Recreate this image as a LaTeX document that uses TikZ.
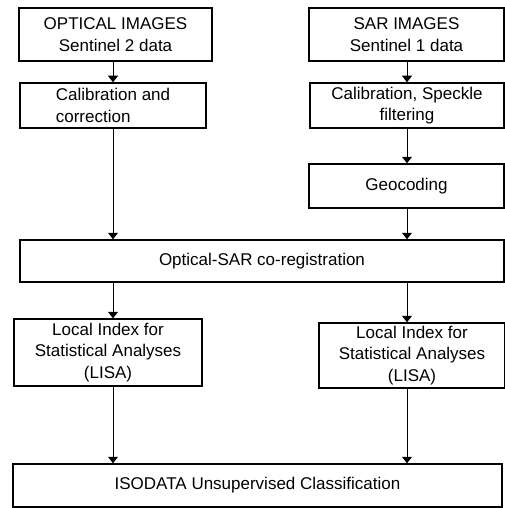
\documentclass[tikz,border=0pt]{standalone}
\usepackage{fontspec}
\setmainfont{Liberation Sans}
\usetikzlibrary{arrows.meta}
\begin{document}
\begin{tikzpicture}[x=1pt,y=-1pt,
                box/.style={draw,line width=1.5pt,rectangle,inner sep=0pt,align=center,
                    font=\fontsize{17}{21.5}\selectfont},
                arr/.style={line width=1pt,-{Triangle[width=10pt,length=6.5pt]}}]
                \useasboundingbox (0,0) rectangle (505,508);
                \coordinate (xl) at (113,0);
                \coordinate (xr) at (407,0);
                \node[box,minimum width=193,minimum height=53] (opt) at (115.5,34.5) {OPTICAL IMAGES\\Sentinel 2 data};
                \node[box,minimum width=186,minimum height=45,align=left] (optcal) at (113,105.5) {Calibration and\\correction};
                \node[box,minimum width=195,minimum height=53] (sar) at (406.5,34.5) {SAR IMAGES\\Sentinel 1 data};
                \node[box,minimum width=194,minimum height=45] (sarcal) at (407,105.5) {Calibration, Speckle\\filtering};
                \node[box,minimum width=195,minimum height=44] (geo) at (406.5,186) {Geocoding};
                \node[box,minimum width=484,minimum height=42] (coreg) at (262,261) {Optical-SAR co-registration};
                \node[box,minimum width=188,minimum height=67] (lisal) at (108,352.5) {Local Index for\\Statistical Analyses\\(LISA)};
                \node[box,minimum width=186,minimum height=65] (lisar) at (412,355.5) {Local Index for\\Statistical Analyses\\(LISA)};
                \node[box,minimum width=489,minimum height=43] (iso) at (257.5,485.5) {ISODATA Unsupervised Classification};
                \draw[arr] (opt.south -| xl) -- (optcal.north -| xl);
                \draw[arr] (optcal.south -| xl) -- (coreg.north -| xl);
                \draw[arr] (sar.south -| xr) -- (sarcal.north -| xr);
                \draw[arr] (sarcal.south -| xr) -- (geo.north -| xr);
                \draw[arr] (geo.south -| xr) -- (coreg.north -| xr);
                \draw[arr] (coreg.south -| xl) -- (lisal.north -| xl);
                \draw[arr] (coreg.south -| xr) -- (lisar.north -| xr);
                \draw[arr] (lisal.south -| xl) -- (iso.north -| xl);
                \draw[arr] (lisar.south -| xr) -- (iso.north -| xr);
            \end{tikzpicture}
\end{document}
